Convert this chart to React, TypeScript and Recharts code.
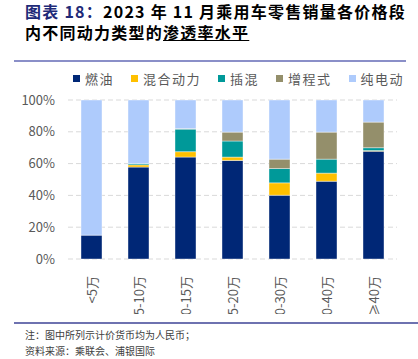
import React from "react";
import { BarChart, Bar, XAxis, YAxis, CartesianGrid } from "recharts";

const categories = ["<5万", "5-10万", "10-15万", "15-20万", "20-30万", "30-40万", "≥40万"];
const fuel = [15, 57.8, 64.1, 62.0, 40.1, 48.9, 67.8];
const hybrid = [0, 1.4, 3.4, 2.1, 7.8, 5.1, 0.4];
const phev = [0, 0.8, 14.2, 10.1, 9.0, 8.8, 1.8];
const erev = [0, 0, 0.3, 5.6, 5.9, 17.0, 16.1];
const bev = [85, 40.0, 18.0, 20.2, 37.2, 20.2, 13.9];
const yTicks = [0, 20, 40, 60, 80, 100];

const seriesNames = ["燃油", "混合动力", "插混", "增程式", "纯电动"];
const seriesKeys = ["fuel", "hybrid", "phev", "erev", "bev"];
const seriesColors = ["#002776", "#FFC000", "#009999", "#948F6B", "#AECBFC"];

const data = categories.map((c, i) => ({
  name: c,
  fuel: fuel[i],
  hybrid: hybrid[i],
  phev: phev[i],
  erev: erev[i],
  bev: bev[i],
}));

const boundaryTicks = categories.map((_, i) => i).concat([categories.length]);

const FONT = "'Noto Sans CJK SC', 'Noto Sans', sans-serif";

const XTick = (props: any) => {
  const { x, y, payload } = props;
  const ay = y + 9;
  return (
    <text
      x={x + 1}
      y={ay}
      dy="0.35em"
      textAnchor="end"
      transform={`rotate(-90, ${x + 1}, ${ay})`}
      fontSize={13}
      fill="#595959"
      fontFamily={FONT}
    >
      {payload.value}
    </text>
  );
};

const titleLine: React.CSSProperties = {
  position: "absolute",
  left: 25,
  fontSize: 16,
  fontWeight: 700,
  letterSpacing: 1.25,
  lineHeight: "18px",
  height: 18,
  color: "#000",
  whiteSpace: "nowrap",
};

export default function App() {
  return (
    <div
      style={{
        position: "absolute",
        left: 0,
        top: 0,
        width: 418,
        height: 359,
        background: "#fff",
        overflow: "hidden",
        fontFamily: FONT,
      }}
    >
      <div style={{ ...titleLine, top: 2 }}>
        <span style={{ color: "#1E2A78" }}>图表 18：</span>2023 年 11 月乘用车零售销量各价格段
      </div>
      <div style={{ ...titleLine, top: 23 }}>
        内不同动力类型的<span style={{ textDecoration: "underline" }}>渗透率水平</span>
      </div>
      <div style={{ position: "absolute", left: 14, top: 60, width: 392, height: 1.5, background: "#8A8FC8" }} />

      <div
        style={{
          position: "absolute",
          left: 73,
          top: 69,
          display: "flex",
          alignItems: "center",
          fontSize: 13,
          color: "#595959",
          whiteSpace: "nowrap",
        }}
      >
        {seriesNames.map((n, i) => (
          <div key={n} style={{ display: "flex", alignItems: "center", marginRight: 17 }}>
            <div style={{ width: 7, height: 7, background: seriesColors[i], marginRight: 5 }} />
            <span style={{ letterSpacing: 1.5 }}>{n}</span>
          </div>
        ))}
      </div>

      <div style={{ position: "absolute", left: 0, top: 64 }}>
        <BarChart
          width={418}
          height={250}
          data={data}
          margin={{ top: 36, right: 21, bottom: 0, left: 0 }}
          barSize={21}
        >
          <CartesianGrid vertical={false} stroke="#D9D9D9" strokeDasharray="5 3" />
          <XAxis
            xAxisId="bound"
            type="number"
            domain={[0, categories.length]}
            ticks={boundaryTicks}
            height={0}
            tick={() => <g />}
            tickSize={4}
            axisLine={{ stroke: "#D9D9D9" }}
            tickLine={{ stroke: "#D9D9D9" }}
            allowDataOverflow
          />
          <XAxis
            dataKey="name"
            height={55}
            axisLine={false}
            tickLine={false}
            interval={0}
            tick={<XTick />}
          />
          <YAxis
            width={68}
            domain={[0, 100]}
            ticks={yTicks}
            tickFormatter={(v: number) => `${v}%`}
            axisLine={false}
            tickLine={false}
            tickSize={0}
            tickMargin={13}
            tick={{ fontSize: 13, fill: "#595959", fontFamily: FONT }}
          />
          {seriesKeys.map((k, i) => (
            <Bar
              key={k}
              dataKey={k}
              name={seriesNames[i]}
              stackId="a"
              fill={seriesColors[i]}
              stroke="#ffffff"
              strokeWidth={0.4}
              isAnimationActive={false}
            />
          ))}
        </BarChart>
      </div>

      <div style={{ position: "absolute", left: 14, top: 322, width: 404, height: 1.5, background: "#6E72B0" }} />
      <div
        style={{
          position: "absolute",
          left: 25,
          top: 327,
          fontSize: 10,
          lineHeight: "16px",
          color: "#404040",
          whiteSpace: "nowrap",
        }}
      >
        <div>注：图中所列示计价货币均为人民币；</div>
        <div>资料来源：乘联会、浦银国际</div>
      </div>
    </div>
  );
}
